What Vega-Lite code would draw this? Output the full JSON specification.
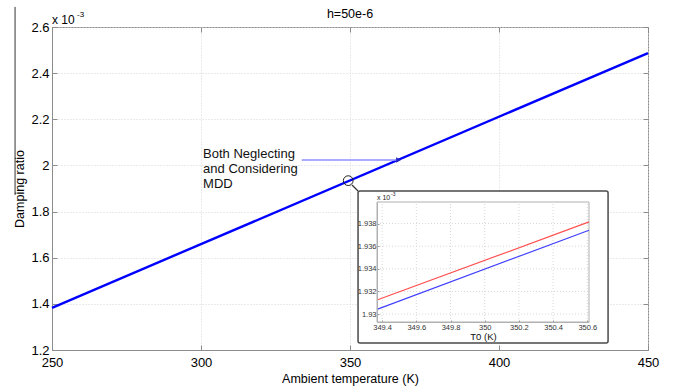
{
  "$schema": "https://vega.github.io/schema/vega-lite/v6.json",
  "width": 596,
  "height": 323,
  "autosize": {"type": "none"},
  "padding": {"left": 52, "top": 27, "right": 27, "bottom": 42},
  "background": "white",
  "config": {
    "font": "Liberation Sans",
    "view": {"stroke": "#8c8c8c", "strokeWidth": 1}
  },
  "datasets": {
    "main": [{"T": 250, "D": 1.383}, {"T": 450, "D": 2.487}],
    "marker": [{"T": 349.4, "D": 1.934}],
    "note": [{"T": 300.7, "D": 2.0495, "label": "Both Neglecting\nand Considering\nMDD"}],
    "arrow": [{"T": 333.8, "T2": 366.3, "D": 2.0235}],
    "connector": [{"T": 350.67, "D": 1.915, "T2": 352.7, "D2": 1.889}],
    "box": [{"T": 352.7, "T2": 436.6, "D": 1.23, "D2": 1.889}],
    "edge": [{"T": 237.6, "D": 2.687, "D2": 1.872}],
    "expo": [{"T": 250, "D": 2.6, "base": "x 10", "exp": "-3", "Tc": 350, "title": "h=50e-6"}],
    "zoom": [
      {"T0": 349.37, "D": 1.93124, "case": "Neglecting MDD"},
      {"T0": 350.61, "D": 1.93814, "case": "Neglecting MDD"},
      {"T0": 349.37, "D": 1.93041, "case": "Considering MDD"},
      {"T0": 350.61, "D": 1.93741, "case": "Considering MDD"}
    ],
    "zoomframe": [{"T0": 349.37, "T02": 350.61, "D": 1.9293, "D2": 1.9399, "base": "x 10", "exp": "-3"}],
    "gridx": [{"T0": 349.4}, {"T0": 349.6}, {"T0": 349.8}, {"T0": 350}, {"T0": 350.2}, {"T0": 350.4}, {"T0": 350.6}],
    "gridy": [{"D": 1.93}, {"D": 1.932}, {"D": 1.934}, {"D": 1.936}, {"D": 1.938}]
  },
  "layer": [
    {
      "data": {"name": "main"},
      "mark": {"type": "line", "color": "#0000ff", "strokeWidth": 2.4},
      "encoding": {
        "x": {"field": "T", "type": "quantitative",
          "scale": {"domain": [250, 450], "nice": false, "zero": false},
          "axis": {"title": "Ambient temperature (K)", "values": [250, 300, 350, 400, 450],
            "grid": true, "gridDash": [1, 2], "gridColor": "#d4d4d4",
            "tickSize": -5, "tickColor": "#8c8c8c", "domainColor": "#8c8c8c",
            "labelFontSize": 13, "labelColor": "black", "labelPadding": 11, "labelFlush": false, "labelOverlap": false,
            "titleFontSize": 12.5, "titleFontWeight": "normal", "titleColor": "black", "titlePadding": 3}},
        "y": {"field": "D", "type": "quantitative",
          "scale": {"domain": [1.2, 2.6], "nice": false, "zero": false},
          "axis": {"title": "Damping ratio", "values": [1.2, 1.4, 1.6, 1.8, 2, 2.2, 2.4, 2.6], "format": ".1~f",
            "grid": true, "gridDash": [1, 2], "gridColor": "#d4d4d4",
            "tickSize": -5, "tickColor": "#8c8c8c", "domainColor": "#8c8c8c",
            "labelFontSize": 13, "labelColor": "black", "labelPadding": 8, "labelFlush": false, "labelOverlap": false,
            "titleFontSize": 12.5, "titleFontWeight": "normal", "titleColor": "black", "titlePadding": 4}}
      }
    },
    {
      "data": {"name": "edge"},
      "mark": {"type": "rule", "color": "#333", "strokeWidth": 1},
      "encoding": {
        "x": {"field": "T", "type": "quantitative", "scale": {"domain": [250, 450], "nice": false, "zero": false}, "axis": null},
        "y": {"field": "D", "type": "quantitative", "scale": {"domain": [1.2, 2.6], "nice": false, "zero": false}, "axis": null},
        "y2": {"field": "D2"}
      }
    },
    {
      "data": {"name": "marker"},
      "mark": {"type": "point", "shape": "circle", "size": 95, "filled": false, "stroke": "#222", "strokeWidth": 1, "opacity": 1},
      "encoding": {
        "x": {"field": "T", "type": "quantitative", "scale": {"domain": [250, 450], "nice": false, "zero": false},
          "axis": {"orient": "top", "title": null, "labels": false, "grid": false, "domain": false, "values": [250, 300, 350, 400, 450], "tickSize": -5, "tickColor": "#8c8c8c"}},
        "y": {"field": "D", "type": "quantitative", "scale": {"domain": [1.2, 2.6], "nice": false, "zero": false},
          "axis": {"orient": "right", "title": null, "labels": false, "grid": false, "domain": false, "values": [1.2, 1.4, 1.6, 1.8, 2, 2.2, 2.4, 2.6], "tickSize": -5, "tickColor": "#8c8c8c"}}
      }
    },
    {
      "data": {"name": "connector"},
      "mark": {"type": "rule", "color": "#333", "strokeWidth": 1.2},
      "encoding": {
        "x": {"field": "T", "type": "quantitative", "scale": {"domain": [250, 450], "nice": false, "zero": false}, "axis": null},
        "y": {"field": "D", "type": "quantitative", "scale": {"domain": [1.2, 2.6], "nice": false, "zero": false}, "axis": null},
        "x2": {"field": "T2"},
        "y2": {"field": "D2"}
      }
    },
    {
      "data": {"name": "note"},
      "mark": {"type": "text", "align": "left", "baseline": "middle", "lineBreak": "\n", "lineHeight": 15, "fontSize": 13, "color": "#111"},
      "encoding": {
        "x": {"field": "T", "type": "quantitative", "scale": {"domain": [250, 450], "nice": false, "zero": false}, "axis": null},
        "y": {"field": "D", "type": "quantitative", "scale": {"domain": [1.2, 2.6], "nice": false, "zero": false}, "axis": null},
        "text": {"field": "label"}
      }
    },
    {
      "data": {"name": "arrow"},
      "mark": {"type": "rule", "color": "#8f8fff", "strokeWidth": 1.5},
      "encoding": {
        "x": {"field": "T", "type": "quantitative", "scale": {"domain": [250, 450], "nice": false, "zero": false}, "axis": null},
        "x2": {"field": "T2"},
        "y": {"field": "D", "type": "quantitative", "scale": {"domain": [1.2, 2.6], "nice": false, "zero": false}, "axis": null}
      }
    },
    {
      "data": {"name": "arrow"},
      "mark": {"type": "point", "shape": "triangle-right", "size": 30, "filled": true, "color": "#2020c0", "opacity": 1},
      "encoding": {
        "x": {"field": "T2", "type": "quantitative", "scale": {"domain": [250, 450], "nice": false, "zero": false}, "axis": null},
        "y": {"field": "D", "type": "quantitative", "scale": {"domain": [1.2, 2.6], "nice": false, "zero": false}, "axis": null}
      }
    },
    {
      "data": {"name": "box"},
      "mark": {"type": "rect", "fill": "white", "stroke": "#4a4a4a", "strokeWidth": 1.5, "cornerRadius": 2},
      "encoding": {
        "x": {"field": "T", "type": "quantitative", "scale": {"domain": [250, 450], "nice": false, "zero": false}, "axis": null},
        "x2": {"field": "T2"},
        "y": {"field": "D", "type": "quantitative", "scale": {"domain": [1.2, 2.6], "nice": false, "zero": false}, "axis": null},
        "y2": {"field": "D2"}
      }
    },
    {
      "data": {"name": "expo"},
      "mark": {"type": "text", "align": "left", "baseline": "alphabetic", "dy": -3, "fontSize": 12, "color": "black"},
      "encoding": {
        "x": {"field": "T", "type": "quantitative", "scale": {"domain": [250, 450], "nice": false, "zero": false}, "axis": null},
        "y": {"field": "D", "type": "quantitative", "scale": {"domain": [1.2, 2.6], "nice": false, "zero": false}, "axis": null},
        "text": {"field": "base"}
      }
    },
    {
      "data": {"name": "expo"},
      "mark": {"type": "text", "align": "left", "baseline": "alphabetic", "dx": 25, "dy": -10, "fontSize": 8, "color": "black"},
      "encoding": {
        "x": {"field": "T", "type": "quantitative", "scale": {"domain": [250, 450], "nice": false, "zero": false}, "axis": null},
        "y": {"field": "D", "type": "quantitative", "scale": {"domain": [1.2, 2.6], "nice": false, "zero": false}, "axis": null},
        "text": {"field": "exp"}
      }
    },
    {
      "data": {"name": "expo"},
      "mark": {"type": "text", "align": "center", "baseline": "alphabetic", "dy": -9, "fontSize": 12.5, "color": "black"},
      "encoding": {
        "x": {"field": "Tc", "type": "quantitative", "scale": {"domain": [250, 450], "nice": false, "zero": false}, "axis": null},
        "y": {"field": "D", "type": "quantitative", "scale": {"domain": [1.2, 2.6], "nice": false, "zero": false}, "axis": null},
        "text": {"field": "title"}
      }
    },
    {
      "data": {"name": "zoomframe"},
      "mark": {"type": "rect", "fill": "white", "stroke": "#b0b0b0", "strokeWidth": 1},
      "encoding": {
        "x": {"field": "T0", "type": "quantitative",
          "scale": {"domain": [349.37, 350.61], "nice": false, "zero": false, "range": [325, 537]},
          "axis": {"orient": "bottom", "offset": -28, "zindex": 1, "title": "T0 (K)", "values": [349.4, 349.6, 349.8, 350, 350.2, 350.4, 350.6], "format": ".1~f",
            "grid": false, "tickSize": -2, "tickColor": "#999", "domainColor": "#b0b0b0",
            "labelFontSize": 7.5, "labelColor": "#333333", "labelPadding": 3.5, "labelFlush": false, "labelOverlap": false,
            "titleFontSize": 9.5, "titleFontWeight": "normal", "titleColor": "#111111", "titlePadding": 0}},
        "x2": {"field": "T02"},
        "y": {"field": "D", "type": "quantitative",
          "scale": {"domain": [1.9293, 1.9399], "nice": false, "zero": false, "range": [295, 175]},
          "axis": {"orient": "left", "offset": -325, "zindex": 1, "title": null, "values": [1.93, 1.932, 1.934, 1.936, 1.938], "format": ".3~f",
            "grid": false, "tickSize": -2, "tickColor": "#999", "domainColor": "#b0b0b0",
            "labelFontSize": 7.5, "labelColor": "#333333", "labelPadding": 3, "labelFlush": false, "labelOverlap": false}},
        "y2": {"field": "D2"}
      }
    },
    {
      "data": {"name": "gridx"},
      "mark": {"type": "rule", "color": "#d8d8d8", "strokeDash": [1, 2], "strokeWidth": 1},
      "encoding": {
        "x": {"field": "T0", "type": "quantitative", "scale": {"domain": [349.37, 350.61], "nice": false, "zero": false, "range": [325, 537]}, "axis": null},
        "y": {"datum": 1.9293, "type": "quantitative", "scale": {"domain": [1.9293, 1.9399], "nice": false, "zero": false, "range": [295, 175]}, "axis": null},
        "y2": {"datum": 1.9399}
      }
    },
    {
      "data": {"name": "gridy"},
      "mark": {"type": "rule", "color": "#d8d8d8", "strokeDash": [1, 2], "strokeWidth": 1},
      "encoding": {
        "y": {"field": "D", "type": "quantitative", "scale": {"domain": [1.9293, 1.9399], "nice": false, "zero": false, "range": [295, 175]}, "axis": null},
        "x": {"datum": 349.37, "type": "quantitative", "scale": {"domain": [349.37, 350.61], "nice": false, "zero": false, "range": [325, 537]}, "axis": null},
        "x2": {"datum": 350.61}
      }
    },
    {
      "data": {"name": "zoom"},
      "mark": {"type": "line", "strokeWidth": 1.2},
      "encoding": {
        "x": {"field": "T0", "type": "quantitative", "scale": {"domain": [349.37, 350.61], "nice": false, "zero": false, "range": [325, 537]}, "axis": null},
        "y": {"field": "D", "type": "quantitative", "scale": {"domain": [1.9293, 1.9399], "nice": false, "zero": false, "range": [295, 175]}, "axis": null},
        "color": {"field": "case", "type": "nominal", "legend": null,
          "scale": {"domain": ["Neglecting MDD", "Considering MDD"], "range": ["#ff5050", "#4040ff"]}}
      }
    },
    {
      "data": {"name": "zoomframe"},
      "mark": {"type": "text", "align": "left", "baseline": "alphabetic", "dy": -2, "fontSize": 7, "color": "#222"},
      "encoding": {
        "x": {"field": "T0", "type": "quantitative", "scale": {"domain": [349.37, 350.61], "nice": false, "zero": false, "range": [325, 537]}, "axis": null},
        "y": {"field": "D2", "type": "quantitative", "scale": {"domain": [1.9293, 1.9399], "nice": false, "zero": false, "range": [295, 175]}, "axis": null},
        "text": {"field": "base"}
      }
    },
    {
      "data": {"name": "zoomframe"},
      "mark": {"type": "text", "align": "left", "baseline": "alphabetic", "dx": 14, "dy": -6, "fontSize": 5, "color": "#222"},
      "encoding": {
        "x": {"field": "T0", "type": "quantitative", "scale": {"domain": [349.37, 350.61], "nice": false, "zero": false, "range": [325, 537]}, "axis": null},
        "y": {"field": "D2", "type": "quantitative", "scale": {"domain": [1.9293, 1.9399], "nice": false, "zero": false, "range": [295, 175]}, "axis": null},
        "text": {"field": "exp"}
      }
    }
  ],
  "resolve": {"scale": {"x": "independent", "y": "independent", "color": "independent"}, "axis": {"x": "independent", "y": "independent"}}
}
